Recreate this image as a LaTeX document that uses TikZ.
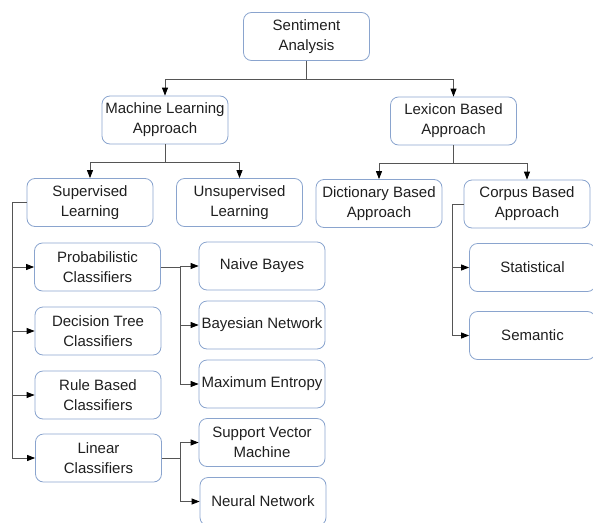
\documentclass[tikz,border=0pt]{standalone}
\usepackage{fontspec}
\setmainfont{Liberation Sans}
\usetikzlibrary{arrows.meta,positioning}

\definecolor{boxblue}{RGB}{138,164,206}
\definecolor{linkgray}{RGB}{85,85,85}

\begin{document}
\begin{tikzpicture}
[
	x	= 1pt,	% one unit per pixel of the reference
	y	= -1pt,	% rows are counted downwards
	box/.style	= {draw=boxblue, line width=0.8pt, rounded corners=8pt, minimum width=126pt, minimum height=48pt, inner sep=0pt, align=center, text=black!88, font=\fontsize{15}{20}\selectfont},
	link/.style	= {color=linkgray, line width=0.8pt, -{Triangle[length=8pt,width=6pt,color=black]}},
]

\useasboundingbox (0,0) rectangle (593,522);
\clip (0,0) rectangle (593,522);

% top levels
\node [box] (sa) at (306.5,36.5) {Sentiment\\Analysis};
\node [box] (ml) at (165,120) {Machine Learning\\Approach};
\node [box] (lb) at (453.5,121) {Lexicon Based\\Approach};

\node [box] (sup) at (90,202.5) {Supervised\\Learning};
\node [box] (uns) at (239.5,202.5) {Unsupervised\\Learning};
\node [box] (dict) at (379,203.5) {Dictionary Based\\Approach};
\node [box] (corp) at (527,204) {Corpus Based\\Approach};

% supervised classifiers
\node [box] (prob) at (97.5,267) {Probabilistic\\Classifiers};
\node [box] (dtree) at (98,331) {Decision Tree\\Classifiers};
\node [box] (rule) at (98,395) {Rule Based\\Classifiers};
\node [box] (lin) at (98.5,458) {Linear\\Classifiers};

\node [box] (nb) at (262,266) {Naive Bayes};
\node [box] (bn) at (262,325) {Bayesian Network};
\node [box] (me) at (262,384) {Maximum Entropy};
\node [box] (svm) at (262,442.5) {Support Vector\\Machine};
\node [box] (nn) at (263,501.5) {Neural Network};

% corpus based
\node [box] (stat) at (532.5,267.5) {Statistical};
\node [box] (sem) at (532.5,335.5) {Semantic};


\draw [link] (sa.south) -- ++(0,18) -| (ml.north);
\draw [link] (sa.south) -- ++(0,18) -| (lb.north);

\draw [link] (ml.south) -- ++(0,18) -| (sup.north);
\draw [link] (ml.south) -- ++(0,18) -| (uns.north);
\draw [link] (lb.south) -- ++(0,18) -| (dict.north);
\draw [link] (lb.south) -- ++(0,18) -| (corp.north);

\foreach \leaf in {prob,dtree,rule,lin}
	\draw [link] (sup.west) -- ++(-14.5,0) |- (\leaf.west);

\foreach \leaf in {nb,bn,me}
	\draw [link] (prob.east) -- ++(19,0) |- (\leaf.west);

\foreach \leaf in {svm,nn}
	\draw [link] (lin.east) -- ++(18.5,0) |- (\leaf.west);

\foreach \leaf in {stat,sem}
	\draw [link] (corp.west) -- ++(-11.5,0) |- (\leaf.west);


\end{tikzpicture}
\end{document}
